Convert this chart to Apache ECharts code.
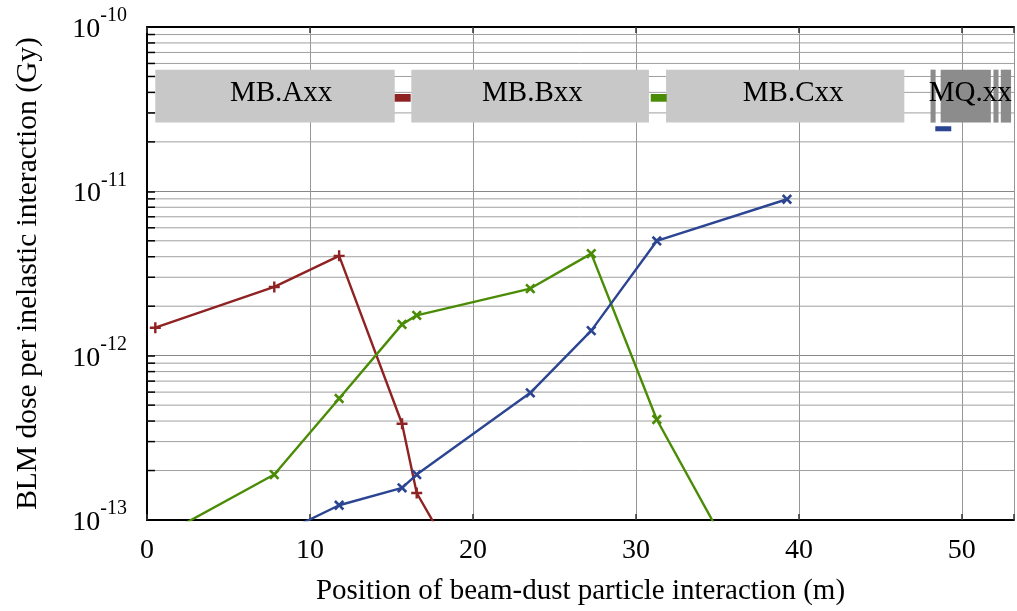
<!DOCTYPE html>
<html>
<head>
<meta charset="utf-8">
<script src="https://cdn.jsdelivr.net/npm/echarts@6/dist/echarts.min.js"></script>
<style>html,body{margin:0;padding:0;background:#fff;}#c{width:1017px;height:611px;}</style>
</head>
<body>
<div id="c"></div>
<script>
// ---- data ----
const positions = [0.51, 7.81, 11.79, 15.65, 16.55, 23.52, 27.26, 31.28, 39.27];
const redDose   = [1.48e-12, 2.62e-12, 4.05e-12, 3.85e-13, 1.46e-13, 9.1e-15, null, null, null];
const greenDose = [7.6e-14, 1.89e-13, 5.49e-13, 1.55e-12, 1.76e-12, 2.56e-12, 4.18e-12, 4.09e-13, 1.49e-14];
const blueDose  = [null, 7.9e-14, 1.23e-13, 1.57e-13, 1.89e-13, 5.94e-13, 1.42e-12, 4.99e-12, 8.95e-12];
const xTicks = [0, 10, 20, 30, 40, 50];
const yDecades = [1e-13, 1e-12, 1e-11, 1e-10];

const magnetNames  = ['MB.Axx', 'MB.Bxx', 'MB.Cxx', 'MQ.xx'];
const magnetLabelX = [8.23, 23.65, 39.65, 50.51];
const dipoleSpans  = [[0.51, 15.20], [16.22, 30.80], [31.85, 46.47]];
const quadSpans    = [[48.08, 48.39], [48.70, 51.78], [51.94, 52.25], [52.39, 53.02]];
const blmSpans     = [[15.20, 16.18], [30.91, 31.89], [48.37, 49.35]];

// ---- styling ----
const SERIF = 'Liberation Serif';
const C_RED = '#8f2222', C_GREEN = '#4b8c06', C_BLUE = '#2b4592';
const blmColors = [C_RED, C_GREEN, C_BLUE];
const PLUS = 'path://M3.9,0h2.2v3.9h3.9v2.2h-3.9v3.9h-2.2v-3.9h-3.9v-2.2h3.9z';
const X_MAX = 53.2;

function pairs(ys) { return positions.map((x, i) => [x, ys[i]]).filter(p => p[1] != null); }

// minor log gridline values (2..9 x 10^k) between the decades
const minorVals = [];
for (let d = 0; d < yDecades.length - 1; d++) for (let m = 2; m <= 9; m++) minorVals.push([m * yDecades[d]]);

const BOX_TOP = 5.5e-11, BOX_BOT = 2.62e-11;
const BAR_TOP = 3.91e-11, BAR_BOT = 3.51e-11;
const LOW_TOP = 2.49e-11, LOW_BOT = 2.32e-11;

function rectRender(getColor, getBand) {
  return function (params, api) {
    const band = getBand(params.dataIndex);
    const p0 = api.coord([api.value(0), band[0]]);
    const p1 = api.coord([api.value(1), band[1]]);
    return { type: 'rect', shape: { x: p0[0], y: p0[1], width: p1[0] - p0[0], height: p1[1] - p0[1] },
             style: { fill: getColor(params.dataIndex) } };
  };
}

const chart = echarts.init(document.getElementById('c'), null, { renderer: 'canvas' });
const option = {
  animation: false,
  backgroundColor: '#fff',
  grid: { left: 147, right: 0, top: 27, bottom: 91 },
  xAxis: [{
    type: 'value', min: 0, max: X_MAX, interval: 10,
    axisLine: { lineStyle: { color: '#000', width: 2 } },
    axisTick: { inside: true, length: 6, lineStyle: { color: '#333', width: 1.5 } },
    splitLine: { show: true, lineStyle: { color: '#969696', width: 1 } },
    axisLabel: { fontFamily: SERIF, fontSize: 28, color: '#000', margin: 17,
      formatter: v => xTicks.includes(v) ? String(v) : '' },
    name: 'Position of beam-dust particle interaction (m)', nameLocation: 'middle', nameGap: 57,
    nameTextStyle: { fontFamily: SERIF, fontSize: 29, color: '#000' }
  }, {
    type: 'value', min: 0, max: X_MAX, interval: 10, position: 'top',
    axisLine: { show: true, lineStyle: { color: '#000', width: 2 } },
    axisTick: { show: true, inside: true, length: 6, lineStyle: { color: '#333', width: 1.5 } },
    axisLabel: { show: false }, splitLine: { show: false }
  }],
  yAxis: {
    type: 'log', logBase: 10, min: yDecades[0], max: yDecades[yDecades.length - 1], splitNumber: 3,
    axisLine: { show: true, lineStyle: { color: '#000', width: 2 } },
    axisTick: { show: true, inside: true, length: 8, lineStyle: { color: '#000', width: 1.5 } },
    splitLine: { show: true, lineStyle: { color: '#888', width: 1 } },
    axisLabel: {
      margin: 20,
      formatter: v => '{b|10}{s|' + Math.round(Math.log10(v)) + '}',
      rich: {
        b: { fontFamily: SERIF, fontSize: 28, color: '#000', padding: [5, 0, 0, 0] },
        s: { fontFamily: SERIF, fontSize: 20, color: '#000', padding: [0, 0, 22, 0] }
      }
    },
    name: 'BLM dose per inelastic interaction (Gy)', nameLocation: 'middle', nameGap: 104,
    nameTextStyle: { fontFamily: SERIF, fontSize: 29.5, color: '#000' }
  },
  series: [
    {
      // minor log grid lines plus inner ticks on the left axis
      type: 'custom', data: minorVals, encode: { y: 0 }, z: 1, silent: true,
      renderItem: function (params, api) {
        const v = api.value(0);
        const p0 = api.coord([0, v]);
        const p1 = api.coord([X_MAX, v]);
        return { type: 'group', children: [
          { type: 'line', shape: { x1: p0[0], y1: p0[1], x2: p1[0], y2: p1[1] },
            style: { stroke: '#a0a0a0', lineWidth: 1 } },
          { type: 'line', shape: { x1: p0[0], y1: p0[1], x2: p0[0] + 8, y2: p0[1] },
            style: { stroke: '#000', lineWidth: 1.5 } }
        ] };
      }
    },
    {
      type: 'line', data: pairs(redDose), color: C_RED, symbol: PLUS, symbolSize: 11,
      lineStyle: { width: 2.4, color: C_RED }, itemStyle: { color: C_RED }, z: 3, clip: true
    },
    {
      type: 'line', data: pairs(greenDose), color: C_GREEN, symbol: PLUS, symbolRotate: 45, symbolSize: 12,
      lineStyle: { width: 2.4, color: C_GREEN }, itemStyle: { color: C_GREEN }, z: 3, clip: true
    },
    {
      type: 'line', data: pairs(blueDose), color: C_BLUE, symbol: PLUS, symbolRotate: 45, symbolSize: 12,
      lineStyle: { width: 2.4, color: C_BLUE }, itemStyle: { color: C_BLUE }, z: 3, clip: true
    },
    {
      type: 'custom', data: dipoleSpans, encode: { x: [0, 1] }, z: 5, silent: true,
      renderItem: rectRender(() => '#c8c8c8', () => [BOX_TOP, BOX_BOT])
    },
    {
      type: 'custom', data: quadSpans, encode: { x: [0, 1] }, z: 5, silent: true,
      renderItem: rectRender(() => '#8c8c8c', () => [BOX_TOP, BOX_BOT])
    },
    {
      type: 'custom', data: blmSpans, encode: { x: [0, 1] }, z: 5, silent: true,
      renderItem: rectRender(i => blmColors[i], i => i < 2 ? [BAR_TOP, BAR_BOT] : [LOW_TOP, LOW_BOT])
    },
    {
      type: 'custom', data: magnetLabelX.map(x => [x]), encode: { x: 0 }, z: 6, silent: true,
      renderItem: function (params, api) {
        const pt = api.coord([api.value(0), BOX_TOP]);
        const pb = api.coord([api.value(0), BOX_BOT]);
        return { type: 'text', x: pt[0], y: (pt[1] + pb[1]) / 2 - 3,
          style: { text: magnetNames[params.dataIndex], fontFamily: SERIF, fontSize: 29,
                   fill: '#000', align: 'center', verticalAlign: 'middle' } };
      }
    }
  ]
};
chart.setOption(option);
</script>
</body>
</html>
